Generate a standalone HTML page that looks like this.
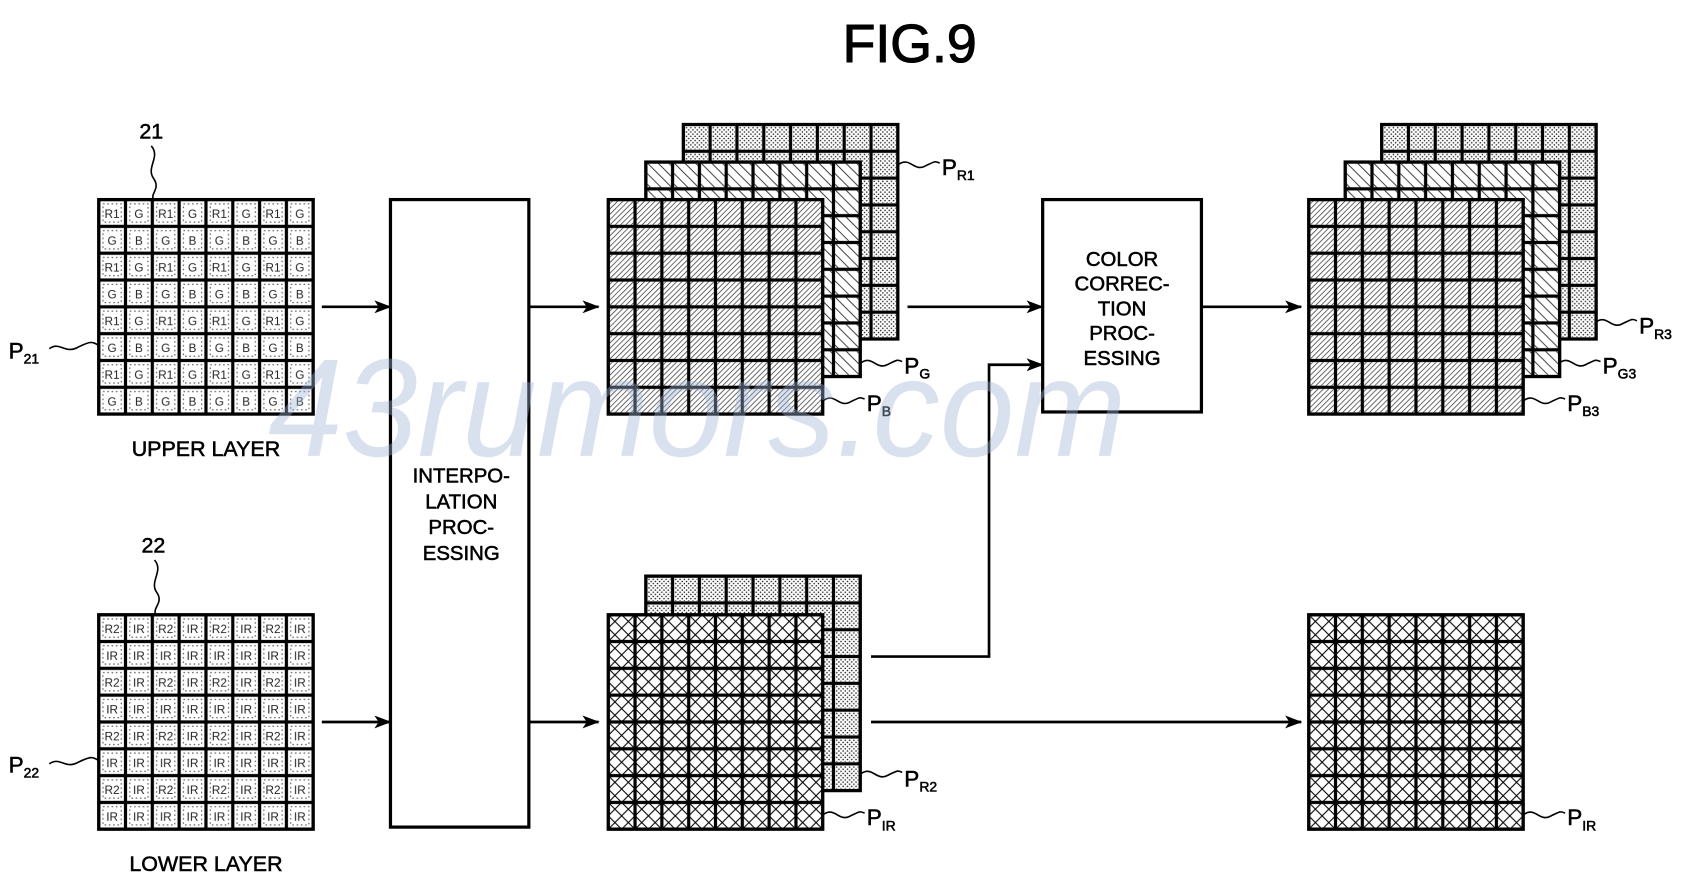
<!DOCTYPE html>
<html><head><meta charset="utf-8"><style>html,body{margin:0;padding:0;background:#fff}svg{display:block}.t{stroke:#000;stroke-width:0.5}</style></head>
<body>
<svg width="1682" height="884" viewBox="0 0 1568 824" xmlns="http://www.w3.org/2000/svg" font-family="Liberation Sans, Arial, sans-serif">
<defs>
<marker id="ar" markerWidth="16" markerHeight="12" refX="15" refY="6" orient="auto" markerUnits="userSpaceOnUse"><path d="M0 0L16 6L0 12L4 6Z" fill="#000"/></marker>
<pattern id="hB" width="3.5" height="3.5" patternUnits="userSpaceOnUse" patternTransform="rotate(45)"><line x1="0" y1="0" x2="0" y2="3.5" stroke="#000" stroke-width="1.1"/></pattern>
<pattern id="hG" width="7" height="7" patternUnits="userSpaceOnUse" patternTransform="rotate(-45)"><line x1="0" y1="0" x2="0" y2="7" stroke="#000" stroke-width="1.4"/></pattern>
<pattern id="dt" width="4" height="4" patternUnits="userSpaceOnUse"><circle cx="1" cy="1" r="0.7" fill="#000"/><circle cx="3" cy="3" r="0.7" fill="#000"/></pattern>

<pattern id="cB" width="0.125" height="0.125" patternUnits="objectBoundingBox"><rect width="25" height="25" fill="#fff"/><rect x="1.5" y="1.5" width="22" height="22" fill="url(#hB)"/><path d="M0 0H25M0 0V25M25 0V25M0 25H25" stroke="#000" stroke-width="3" fill="none"/></pattern>
<pattern id="cG" width="0.125" height="0.125" patternUnits="objectBoundingBox"><rect width="25" height="25" fill="#fff"/><rect x="1.5" y="1.5" width="22" height="22" fill="url(#hG)"/><path d="M0 0H25M0 0V25M25 0V25M0 25H25" stroke="#000" stroke-width="3" fill="none"/></pattern>
<pattern id="cR" width="0.125" height="0.125" patternUnits="objectBoundingBox"><rect width="25" height="25" fill="#fff"/><rect x="2" y="2" width="21" height="21" fill="url(#dt)"/><path d="M0 0H25M0 0V25M25 0V25M0 25H25" stroke="#000" stroke-width="3" fill="none"/></pattern>
<pattern id="cX" width="0.125" height="0.125" patternUnits="objectBoundingBox"><rect width="25" height="25" fill="#fff"/><path d="M0 0L25 25M25 0L0 25M12.5 0L25 12.5L12.5 25L0 12.5Z" stroke="#000" stroke-width="1" fill="none"/><path d="M0 0H25M0 0V25M25 0V25M0 25H25" stroke="#000" stroke-width="3" fill="none"/></pattern>

<pattern id="up" width="50" height="50" patternUnits="userSpaceOnUse" x="92" y="186">
<rect width="50" height="50" fill="#fff"/>
<g fill="none" stroke="#555" stroke-width="1" stroke-dasharray="1.5 2.5"><rect x="4" y="4" width="17" height="17"/><rect x="29" y="4" width="17" height="17"/><rect x="4" y="29" width="17" height="17"/><rect x="29" y="29" width="17" height="17"/></g>
<g font-size="11" text-anchor="middle" fill="#222"><text x="12.5" y="17">R1</text><text x="37.5" y="17">G</text><text x="12.5" y="42">G</text><text x="37.5" y="42">B</text></g>
<path d="M0 0H50M0 0V50M25 0V50M0 25H50M50 0V50M0 50H50" stroke="#000" stroke-width="3" fill="none"/>
</pattern>
<pattern id="lo" width="50" height="50" patternUnits="userSpaceOnUse" x="92" y="573">
<rect width="50" height="50" fill="#fff"/>
<g fill="none" stroke="#555" stroke-width="1" stroke-dasharray="1.5 2.5"><rect x="4" y="4" width="17" height="17"/><rect x="29" y="4" width="17" height="17"/><rect x="4" y="29" width="17" height="17"/><rect x="29" y="29" width="17" height="17"/></g>
<g font-size="11" text-anchor="middle" fill="#222"><text x="12.5" y="17">R2</text><text x="37.5" y="17">IR</text><text x="12.5" y="42">IR</text><text x="37.5" y="42">IR</text></g>
<path d="M0 0H50M0 0V50M25 0V50M0 25H50M50 0V50M0 50H50" stroke="#000" stroke-width="3" fill="none"/>
</pattern>
</defs>

<rect width="1568" height="824" fill="#fff"/>
<text class="t" x="848" y="58" font-size="50" text-anchor="middle" style="stroke-width:1">FIG.9</text>

<g class="t">
<text x="141" y="129" font-size="20" text-anchor="middle">21</text>
<text x="8" y="334" font-size="21">P<tspan font-size="13" dy="5">21</tspan></text>
<text x="192" y="425" font-size="20" text-anchor="middle">UPPER LAYER</text>
<text x="143" y="515" font-size="20" text-anchor="middle">22</text>
<text x="8" y="720" font-size="21">P<tspan font-size="13" dy="5">22</tspan></text>
<text x="192" y="812" font-size="20" text-anchor="middle">LOWER LAYER</text>
</g>
<path d="M141 136C150 146 136 156 143 166S140 180 143 186" stroke="#000" stroke-width="1.5" fill="none"/>
<rect x="92" y="186" width="200" height="200" fill="url(#up)" stroke="#000" stroke-width="3"/>
<path d="M46 325C56 318 60 330 72 324S86 318 92 322" stroke="#000" stroke-width="1.5" fill="none"/>
<path d="M144 522C153 532 139 542 146 552S142 566 145 573" stroke="#000" stroke-width="1.5" fill="none"/>
<rect x="92" y="573" width="200" height="200" fill="url(#lo)" stroke="#000" stroke-width="3"/>
<path d="M46 712C56 705 60 717 72 711S86 705 92 709" stroke="#000" stroke-width="1.5" fill="none"/>

<line x1="300" y1="286" x2="364" y2="286" stroke="#000" stroke-width="2.5" marker-end="url(#ar)"/>
<line x1="300" y1="673" x2="364" y2="673" stroke="#000" stroke-width="2.5" marker-end="url(#ar)"/>

<rect x="364" y="186" width="129" height="585" fill="#fff" stroke="#000" stroke-width="3"/>
<g class="t" font-size="19" text-anchor="middle"><text x="430" y="450">INTERPO-</text><text x="430" y="474">LATION</text><text x="430" y="498">PROC-</text><text x="430" y="522">ESSING</text></g>

<line x1="493" y1="286" x2="558" y2="286" stroke="#000" stroke-width="2.5" marker-end="url(#ar)"/>
<line x1="493" y1="673" x2="558" y2="673" stroke="#000" stroke-width="2.5" marker-end="url(#ar)"/>

<rect x="637" y="116" width="200" height="200" fill="url(#cR)" stroke="#000" stroke-width="3"/>
<rect x="602" y="151" width="200" height="200" fill="url(#cG)" stroke="#000" stroke-width="3"/>
<rect x="567" y="186" width="200" height="200" fill="url(#cB)" stroke="#000" stroke-width="3"/>
<path d="M838 153C848 146 852 160 862 155S872 150 876 152" stroke="#000" stroke-width="1.5" fill="none"/>
<path d="M803 338C813 331 817 345 827 340S837 335 841 337" stroke="#000" stroke-width="1.5" fill="none"/>
<path d="M768 373C778 366 782 380 792 375S802 370 806 372" stroke="#000" stroke-width="1.5" fill="none"/>
<g class="t">
<text x="878" y="163" font-size="21">P<tspan font-size="13" dy="5">R1</tspan></text>
<text x="843" y="348" font-size="21">P<tspan font-size="13" dy="5">G</tspan></text>
<text x="808" y="383" font-size="21">P<tspan font-size="13" dy="5">B</tspan></text>
</g>

<line x1="846" y1="286" x2="972" y2="286" stroke="#000" stroke-width="2.5" marker-end="url(#ar)"/>
<polyline points="812,612 922,612 922,340 972,340" fill="none" stroke="#000" stroke-width="2.5" marker-end="url(#ar)"/>

<rect x="972" y="186" width="148" height="198" fill="#fff" stroke="#000" stroke-width="3"/>
<g class="t" font-size="19" text-anchor="middle"><text x="1046" y="248">COLOR</text><text x="1046" y="271">CORREC-</text><text x="1046" y="294">TION</text><text x="1046" y="317">PROC-</text><text x="1046" y="340">ESSING</text></g>

<line x1="1120" y1="286" x2="1213" y2="286" stroke="#000" stroke-width="2.5" marker-end="url(#ar)"/>

<rect x="1288" y="116" width="200" height="200" fill="url(#cR)" stroke="#000" stroke-width="3"/>
<rect x="1254" y="151" width="200" height="200" fill="url(#cG)" stroke="#000" stroke-width="3"/>
<rect x="1220" y="186" width="200" height="200" fill="url(#cB)" stroke="#000" stroke-width="3"/>
<path d="M1488 300C1498 293 1502 307 1512 302S1522 297 1526 299" stroke="#000" stroke-width="1.5" fill="none"/>
<path d="M1454 338C1464 331 1468 345 1478 340S1488 335 1492 337" stroke="#000" stroke-width="1.5" fill="none"/>
<path d="M1421 373C1431 366 1435 380 1445 375S1455 370 1459 372" stroke="#000" stroke-width="1.5" fill="none"/>
<g class="t">
<text x="1528" y="311" font-size="21">P<tspan font-size="13" dy="5">R3</tspan></text>
<text x="1494" y="348" font-size="21">P<tspan font-size="13" dy="5">G3</tspan></text>
<text x="1461" y="383" font-size="21">P<tspan font-size="13" dy="5">B3</tspan></text>
</g>

<rect x="602" y="537" width="200" height="200" fill="url(#cR)" stroke="#000" stroke-width="3"/>
<rect x="567" y="573" width="200" height="200" fill="url(#cX)" stroke="#000" stroke-width="3"/>
<path d="M803 721C813 714 817 728 827 723S837 718 841 720" stroke="#000" stroke-width="1.5" fill="none"/>
<path d="M768 759C778 752 782 766 792 761S802 756 806 758" stroke="#000" stroke-width="1.5" fill="none"/>
<g class="t">
<text x="843" y="733" font-size="21">P<tspan font-size="13" dy="5">R2</tspan></text>
<text x="808" y="769" font-size="21">P<tspan font-size="13" dy="5">IR</tspan></text>
</g>

<line x1="812" y1="673" x2="1213" y2="673" stroke="#000" stroke-width="2.5" marker-end="url(#ar)"/>

<rect x="1220" y="573" width="200" height="200" fill="url(#cX)" stroke="#000" stroke-width="3"/>
<path d="M1421 759C1431 752 1435 766 1445 761S1455 756 1459 758" stroke="#000" stroke-width="1.5" fill="none"/>
<text class="t" x="1461" y="769" font-size="21">P<tspan font-size="13" dy="5">IR</tspan></text>

<text x="250" y="425" font-size="130" font-style="italic" fill="#9fb3d6" fill-opacity="0.4" textLength="800" lengthAdjust="spacingAndGlyphs">43rumors.com</text>
</svg>
</body></html>
